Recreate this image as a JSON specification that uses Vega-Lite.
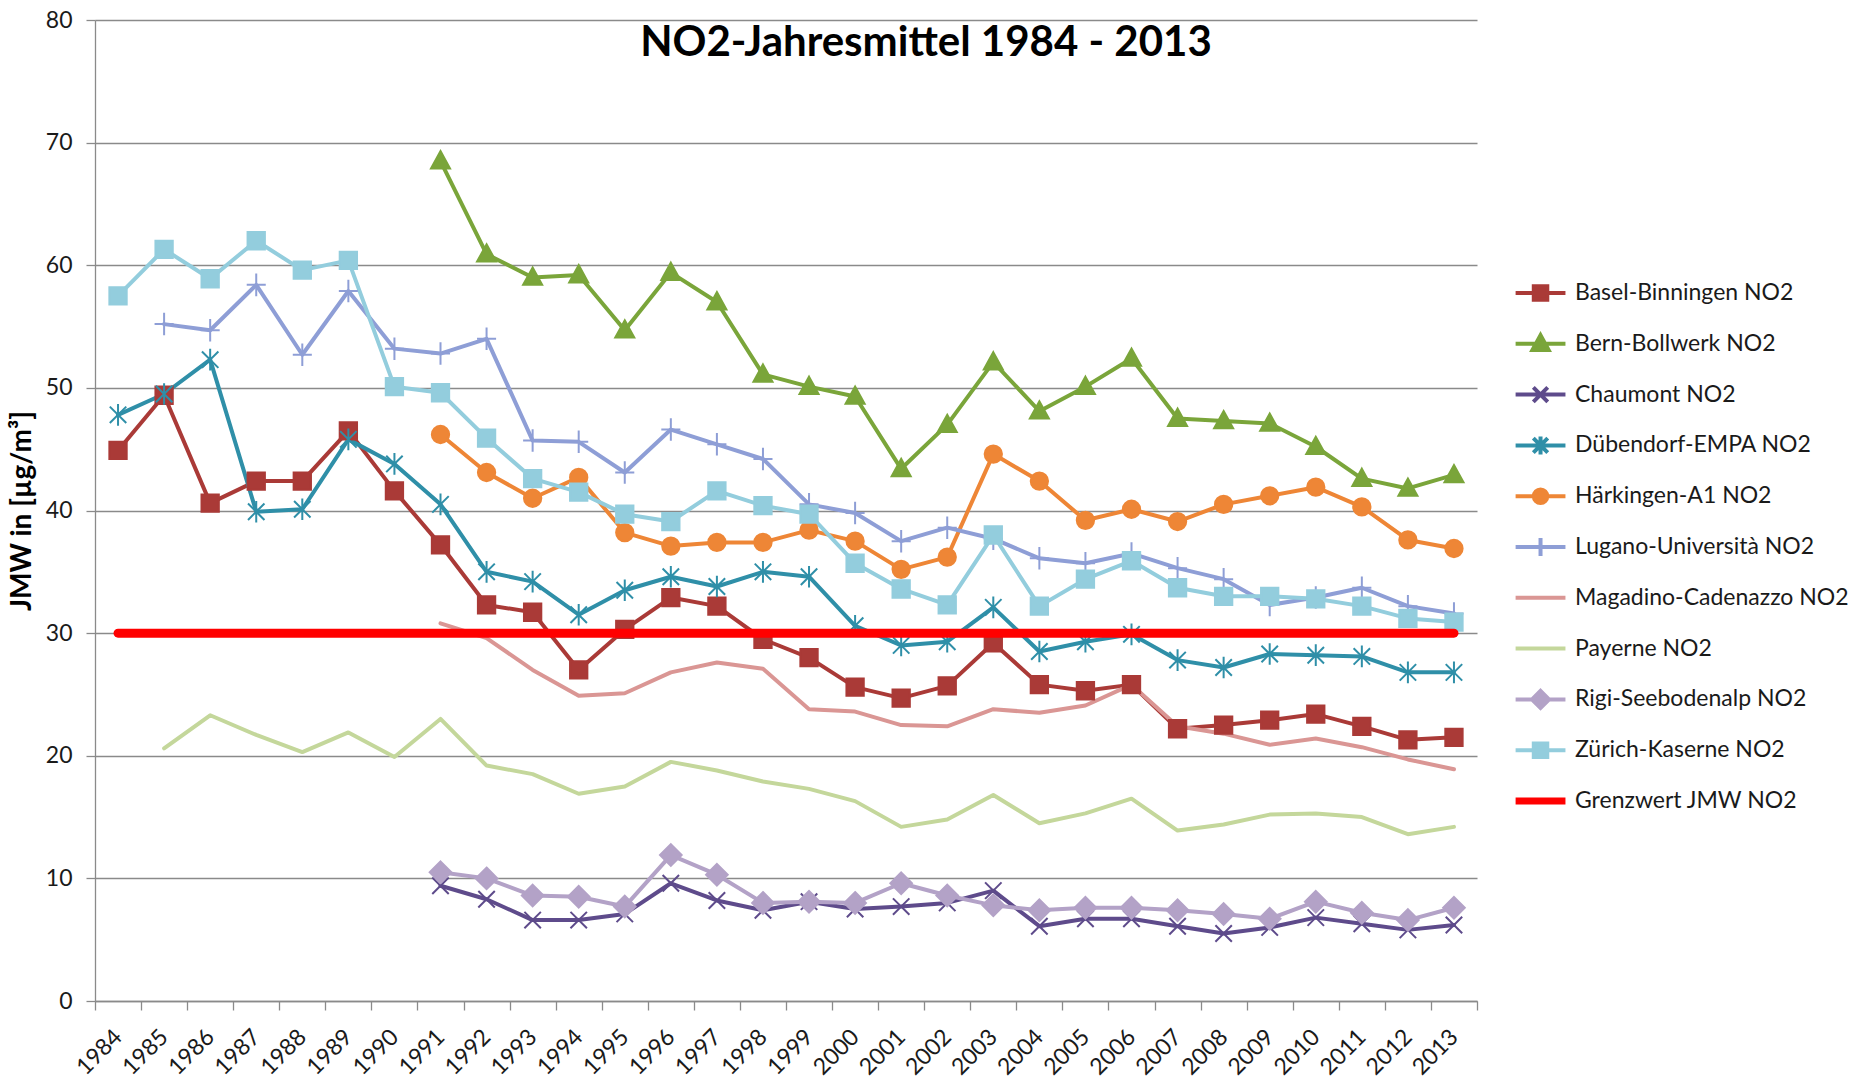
{
  "$schema": "https://vega.github.io/schema/vega-lite/v6.json",
  "width": 1382,
  "height": 981,
  "autosize": {"type": "none"},
  "padding": {"left": 95, "top": 20, "right": 383, "bottom": 80},
  "background": "white",
  "config": {"font": "Lato", "view": {"stroke": null}},
  "title": {"text": "NO2-Jahresmittel 1984 - 2013", "font": "Lato", "fontSize": 42, "fontWeight": "bold", "color": "#000000", "anchor": "middle", "frame": "group", "dx": 140, "offset": -89, "baseline": "alphabetic"},
  "data": {"values": [
    {"station":"Basel-Binningen NO2","year":"1984","value":44.9},{"station":"Basel-Binningen NO2","year":"1985","value":49.4},{"station":"Basel-Binningen NO2","year":"1986","value":40.6},{"station":"Basel-Binningen NO2","year":"1987","value":42.4},{"station":"Basel-Binningen NO2","year":"1988","value":42.4},{"station":"Basel-Binningen NO2","year":"1989","value":46.5},{"station":"Basel-Binningen NO2","year":"1990","value":41.6},{"station":"Basel-Binningen NO2","year":"1991","value":37.2},{"station":"Basel-Binningen NO2","year":"1992","value":32.3},{"station":"Basel-Binningen NO2","year":"1993","value":31.7},{"station":"Basel-Binningen NO2","year":"1994","value":27.0},{"station":"Basel-Binningen NO2","year":"1995","value":30.3},{"station":"Basel-Binningen NO2","year":"1996","value":32.9},{"station":"Basel-Binningen NO2","year":"1997","value":32.2},{"station":"Basel-Binningen NO2","year":"1998","value":29.5},{"station":"Basel-Binningen NO2","year":"1999","value":28.0},{"station":"Basel-Binningen NO2","year":"2000","value":25.6},{"station":"Basel-Binningen NO2","year":"2001","value":24.7},{"station":"Basel-Binningen NO2","year":"2002","value":25.7},{"station":"Basel-Binningen NO2","year":"2003","value":29.2},{"station":"Basel-Binningen NO2","year":"2004","value":25.8},{"station":"Basel-Binningen NO2","year":"2005","value":25.3},{"station":"Basel-Binningen NO2","year":"2006","value":25.8},{"station":"Basel-Binningen NO2","year":"2007","value":22.2},{"station":"Basel-Binningen NO2","year":"2008","value":22.5},{"station":"Basel-Binningen NO2","year":"2009","value":22.9},{"station":"Basel-Binningen NO2","year":"2010","value":23.4},{"station":"Basel-Binningen NO2","year":"2011","value":22.4},{"station":"Basel-Binningen NO2","year":"2012","value":21.3},{"station":"Basel-Binningen NO2","year":"2013","value":21.5},
    {"station":"Bern-Bollwerk NO2","year":"1991","value":68.5},{"station":"Bern-Bollwerk NO2","year":"1992","value":60.9},{"station":"Bern-Bollwerk NO2","year":"1993","value":59.0},{"station":"Bern-Bollwerk NO2","year":"1994","value":59.2},{"station":"Bern-Bollwerk NO2","year":"1995","value":54.7},{"station":"Bern-Bollwerk NO2","year":"1996","value":59.4},{"station":"Bern-Bollwerk NO2","year":"1997","value":57.0},{"station":"Bern-Bollwerk NO2","year":"1998","value":51.1},{"station":"Bern-Bollwerk NO2","year":"1999","value":50.1},{"station":"Bern-Bollwerk NO2","year":"2000","value":49.3},{"station":"Bern-Bollwerk NO2","year":"2001","value":43.4},{"station":"Bern-Bollwerk NO2","year":"2002","value":47.0},{"station":"Bern-Bollwerk NO2","year":"2003","value":52.1},{"station":"Bern-Bollwerk NO2","year":"2004","value":48.1},{"station":"Bern-Bollwerk NO2","year":"2005","value":50.1},{"station":"Bern-Bollwerk NO2","year":"2006","value":52.4},{"station":"Bern-Bollwerk NO2","year":"2007","value":47.5},{"station":"Bern-Bollwerk NO2","year":"2008","value":47.3},{"station":"Bern-Bollwerk NO2","year":"2009","value":47.1},{"station":"Bern-Bollwerk NO2","year":"2010","value":45.2},{"station":"Bern-Bollwerk NO2","year":"2011","value":42.6},{"station":"Bern-Bollwerk NO2","year":"2012","value":41.8},{"station":"Bern-Bollwerk NO2","year":"2013","value":42.9},
    {"station":"Chaumont NO2","year":"1991","value":9.4},{"station":"Chaumont NO2","year":"1992","value":8.3},{"station":"Chaumont NO2","year":"1993","value":6.6},{"station":"Chaumont NO2","year":"1994","value":6.6},{"station":"Chaumont NO2","year":"1995","value":7.1},{"station":"Chaumont NO2","year":"1996","value":9.6},{"station":"Chaumont NO2","year":"1997","value":8.2},{"station":"Chaumont NO2","year":"1998","value":7.4},{"station":"Chaumont NO2","year":"1999","value":8.1},{"station":"Chaumont NO2","year":"2000","value":7.5},{"station":"Chaumont NO2","year":"2001","value":7.7},{"station":"Chaumont NO2","year":"2002","value":8.0},{"station":"Chaumont NO2","year":"2003","value":9.0},{"station":"Chaumont NO2","year":"2004","value":6.1},{"station":"Chaumont NO2","year":"2005","value":6.7},{"station":"Chaumont NO2","year":"2006","value":6.7},{"station":"Chaumont NO2","year":"2007","value":6.1},{"station":"Chaumont NO2","year":"2008","value":5.5},{"station":"Chaumont NO2","year":"2009","value":6.0},{"station":"Chaumont NO2","year":"2010","value":6.8},{"station":"Chaumont NO2","year":"2011","value":6.3},{"station":"Chaumont NO2","year":"2012","value":5.8},{"station":"Chaumont NO2","year":"2013","value":6.2},
    {"station":"Dübendorf-EMPA NO2","year":"1984","value":47.8},{"station":"Dübendorf-EMPA NO2","year":"1985","value":49.5},{"station":"Dübendorf-EMPA NO2","year":"1986","value":52.3},{"station":"Dübendorf-EMPA NO2","year":"1987","value":39.9},{"station":"Dübendorf-EMPA NO2","year":"1988","value":40.1},{"station":"Dübendorf-EMPA NO2","year":"1989","value":45.8},{"station":"Dübendorf-EMPA NO2","year":"1990","value":43.8},{"station":"Dübendorf-EMPA NO2","year":"1991","value":40.5},{"station":"Dübendorf-EMPA NO2","year":"1992","value":35.0},{"station":"Dübendorf-EMPA NO2","year":"1993","value":34.2},{"station":"Dübendorf-EMPA NO2","year":"1994","value":31.5},{"station":"Dübendorf-EMPA NO2","year":"1995","value":33.5},{"station":"Dübendorf-EMPA NO2","year":"1996","value":34.6},{"station":"Dübendorf-EMPA NO2","year":"1997","value":33.8},{"station":"Dübendorf-EMPA NO2","year":"1998","value":35.0},{"station":"Dübendorf-EMPA NO2","year":"1999","value":34.6},{"station":"Dübendorf-EMPA NO2","year":"2000","value":30.6},{"station":"Dübendorf-EMPA NO2","year":"2001","value":29.0},{"station":"Dübendorf-EMPA NO2","year":"2002","value":29.3},{"station":"Dübendorf-EMPA NO2","year":"2003","value":32.1},{"station":"Dübendorf-EMPA NO2","year":"2004","value":28.5},{"station":"Dübendorf-EMPA NO2","year":"2005","value":29.3},{"station":"Dübendorf-EMPA NO2","year":"2006","value":29.9},{"station":"Dübendorf-EMPA NO2","year":"2007","value":27.8},{"station":"Dübendorf-EMPA NO2","year":"2008","value":27.2},{"station":"Dübendorf-EMPA NO2","year":"2009","value":28.3},{"station":"Dübendorf-EMPA NO2","year":"2010","value":28.2},{"station":"Dübendorf-EMPA NO2","year":"2011","value":28.1},{"station":"Dübendorf-EMPA NO2","year":"2012","value":26.8},{"station":"Dübendorf-EMPA NO2","year":"2013","value":26.8},
    {"station":"Härkingen-A1 NO2","year":"1991","value":46.2},{"station":"Härkingen-A1 NO2","year":"1992","value":43.1},{"station":"Härkingen-A1 NO2","year":"1993","value":41.0},{"station":"Härkingen-A1 NO2","year":"1994","value":42.7},{"station":"Härkingen-A1 NO2","year":"1995","value":38.2},{"station":"Härkingen-A1 NO2","year":"1996","value":37.1},{"station":"Härkingen-A1 NO2","year":"1997","value":37.4},{"station":"Härkingen-A1 NO2","year":"1998","value":37.4},{"station":"Härkingen-A1 NO2","year":"1999","value":38.4},{"station":"Härkingen-A1 NO2","year":"2000","value":37.5},{"station":"Härkingen-A1 NO2","year":"2001","value":35.2},{"station":"Härkingen-A1 NO2","year":"2002","value":36.2},{"station":"Härkingen-A1 NO2","year":"2003","value":44.6},{"station":"Härkingen-A1 NO2","year":"2004","value":42.4},{"station":"Härkingen-A1 NO2","year":"2005","value":39.2},{"station":"Härkingen-A1 NO2","year":"2006","value":40.1},{"station":"Härkingen-A1 NO2","year":"2007","value":39.1},{"station":"Härkingen-A1 NO2","year":"2008","value":40.5},{"station":"Härkingen-A1 NO2","year":"2009","value":41.2},{"station":"Härkingen-A1 NO2","year":"2010","value":41.9},{"station":"Härkingen-A1 NO2","year":"2011","value":40.3},{"station":"Härkingen-A1 NO2","year":"2012","value":37.6},{"station":"Härkingen-A1 NO2","year":"2013","value":36.9},
    {"station":"Lugano-Università NO2","year":"1985","value":55.2},{"station":"Lugano-Università NO2","year":"1986","value":54.7},{"station":"Lugano-Università NO2","year":"1987","value":58.4},{"station":"Lugano-Università NO2","year":"1988","value":52.7},{"station":"Lugano-Università NO2","year":"1989","value":57.9},{"station":"Lugano-Università NO2","year":"1990","value":53.2},{"station":"Lugano-Università NO2","year":"1991","value":52.8},{"station":"Lugano-Università NO2","year":"1992","value":54.0},{"station":"Lugano-Università NO2","year":"1993","value":45.7},{"station":"Lugano-Università NO2","year":"1994","value":45.6},{"station":"Lugano-Università NO2","year":"1995","value":43.1},{"station":"Lugano-Università NO2","year":"1996","value":46.6},{"station":"Lugano-Università NO2","year":"1997","value":45.4},{"station":"Lugano-Università NO2","year":"1998","value":44.2},{"station":"Lugano-Università NO2","year":"1999","value":40.5},{"station":"Lugano-Università NO2","year":"2000","value":39.8},{"station":"Lugano-Università NO2","year":"2001","value":37.5},{"station":"Lugano-Università NO2","year":"2002","value":38.6},{"station":"Lugano-Università NO2","year":"2003","value":37.7},{"station":"Lugano-Università NO2","year":"2004","value":36.1},{"station":"Lugano-Università NO2","year":"2005","value":35.7},{"station":"Lugano-Università NO2","year":"2006","value":36.5},{"station":"Lugano-Università NO2","year":"2007","value":35.3},{"station":"Lugano-Università NO2","year":"2008","value":34.4},{"station":"Lugano-Università NO2","year":"2009","value":32.3},{"station":"Lugano-Università NO2","year":"2010","value":32.9},{"station":"Lugano-Università NO2","year":"2011","value":33.7},{"station":"Lugano-Università NO2","year":"2012","value":32.2},{"station":"Lugano-Università NO2","year":"2013","value":31.6},
    {"station":"Magadino-Cadenazzo NO2","year":"1991","value":30.8},{"station":"Magadino-Cadenazzo NO2","year":"1992","value":29.6},{"station":"Magadino-Cadenazzo NO2","year":"1993","value":27.0},{"station":"Magadino-Cadenazzo NO2","year":"1994","value":24.9},{"station":"Magadino-Cadenazzo NO2","year":"1995","value":25.1},{"station":"Magadino-Cadenazzo NO2","year":"1996","value":26.8},{"station":"Magadino-Cadenazzo NO2","year":"1997","value":27.6},{"station":"Magadino-Cadenazzo NO2","year":"1998","value":27.1},{"station":"Magadino-Cadenazzo NO2","year":"1999","value":23.8},{"station":"Magadino-Cadenazzo NO2","year":"2000","value":23.6},{"station":"Magadino-Cadenazzo NO2","year":"2001","value":22.5},{"station":"Magadino-Cadenazzo NO2","year":"2002","value":22.4},{"station":"Magadino-Cadenazzo NO2","year":"2003","value":23.8},{"station":"Magadino-Cadenazzo NO2","year":"2004","value":23.5},{"station":"Magadino-Cadenazzo NO2","year":"2005","value":24.1},{"station":"Magadino-Cadenazzo NO2","year":"2006","value":25.8},{"station":"Magadino-Cadenazzo NO2","year":"2007","value":22.4},{"station":"Magadino-Cadenazzo NO2","year":"2008","value":21.8},{"station":"Magadino-Cadenazzo NO2","year":"2009","value":20.9},{"station":"Magadino-Cadenazzo NO2","year":"2010","value":21.4},{"station":"Magadino-Cadenazzo NO2","year":"2011","value":20.7},{"station":"Magadino-Cadenazzo NO2","year":"2012","value":19.7},{"station":"Magadino-Cadenazzo NO2","year":"2013","value":18.9},
    {"station":"Payerne NO2","year":"1985","value":20.6},{"station":"Payerne NO2","year":"1986","value":23.3},{"station":"Payerne NO2","year":"1987","value":21.7},{"station":"Payerne NO2","year":"1988","value":20.3},{"station":"Payerne NO2","year":"1989","value":21.9},{"station":"Payerne NO2","year":"1990","value":19.9},{"station":"Payerne NO2","year":"1991","value":23.0},{"station":"Payerne NO2","year":"1992","value":19.2},{"station":"Payerne NO2","year":"1993","value":18.5},{"station":"Payerne NO2","year":"1994","value":16.9},{"station":"Payerne NO2","year":"1995","value":17.5},{"station":"Payerne NO2","year":"1996","value":19.5},{"station":"Payerne NO2","year":"1997","value":18.8},{"station":"Payerne NO2","year":"1998","value":17.9},{"station":"Payerne NO2","year":"1999","value":17.3},{"station":"Payerne NO2","year":"2000","value":16.3},{"station":"Payerne NO2","year":"2001","value":14.2},{"station":"Payerne NO2","year":"2002","value":14.8},{"station":"Payerne NO2","year":"2003","value":16.8},{"station":"Payerne NO2","year":"2004","value":14.5},{"station":"Payerne NO2","year":"2005","value":15.3},{"station":"Payerne NO2","year":"2006","value":16.5},{"station":"Payerne NO2","year":"2007","value":13.9},{"station":"Payerne NO2","year":"2008","value":14.4},{"station":"Payerne NO2","year":"2009","value":15.2},{"station":"Payerne NO2","year":"2010","value":15.3},{"station":"Payerne NO2","year":"2011","value":15.0},{"station":"Payerne NO2","year":"2012","value":13.6},{"station":"Payerne NO2","year":"2013","value":14.2},
    {"station":"Rigi-Seebodenalp NO2","year":"1991","value":10.5},{"station":"Rigi-Seebodenalp NO2","year":"1992","value":10.0},{"station":"Rigi-Seebodenalp NO2","year":"1993","value":8.6},{"station":"Rigi-Seebodenalp NO2","year":"1994","value":8.5},{"station":"Rigi-Seebodenalp NO2","year":"1995","value":7.7},{"station":"Rigi-Seebodenalp NO2","year":"1996","value":11.9},{"station":"Rigi-Seebodenalp NO2","year":"1997","value":10.3},{"station":"Rigi-Seebodenalp NO2","year":"1998","value":8.0},{"station":"Rigi-Seebodenalp NO2","year":"1999","value":8.1},{"station":"Rigi-Seebodenalp NO2","year":"2000","value":8.0},{"station":"Rigi-Seebodenalp NO2","year":"2001","value":9.6},{"station":"Rigi-Seebodenalp NO2","year":"2002","value":8.6},{"station":"Rigi-Seebodenalp NO2","year":"2003","value":7.8},{"station":"Rigi-Seebodenalp NO2","year":"2004","value":7.4},{"station":"Rigi-Seebodenalp NO2","year":"2005","value":7.6},{"station":"Rigi-Seebodenalp NO2","year":"2006","value":7.6},{"station":"Rigi-Seebodenalp NO2","year":"2007","value":7.4},{"station":"Rigi-Seebodenalp NO2","year":"2008","value":7.1},{"station":"Rigi-Seebodenalp NO2","year":"2009","value":6.7},{"station":"Rigi-Seebodenalp NO2","year":"2010","value":8.1},{"station":"Rigi-Seebodenalp NO2","year":"2011","value":7.2},{"station":"Rigi-Seebodenalp NO2","year":"2012","value":6.6},{"station":"Rigi-Seebodenalp NO2","year":"2013","value":7.6},
    {"station":"Zürich-Kaserne NO2","year":"1984","value":57.5},{"station":"Zürich-Kaserne NO2","year":"1985","value":61.3},{"station":"Zürich-Kaserne NO2","year":"1986","value":58.9},{"station":"Zürich-Kaserne NO2","year":"1987","value":62.0},{"station":"Zürich-Kaserne NO2","year":"1988","value":59.6},{"station":"Zürich-Kaserne NO2","year":"1989","value":60.4},{"station":"Zürich-Kaserne NO2","year":"1990","value":50.1},{"station":"Zürich-Kaserne NO2","year":"1991","value":49.6},{"station":"Zürich-Kaserne NO2","year":"1992","value":45.9},{"station":"Zürich-Kaserne NO2","year":"1993","value":42.6},{"station":"Zürich-Kaserne NO2","year":"1994","value":41.5},{"station":"Zürich-Kaserne NO2","year":"1995","value":39.7},{"station":"Zürich-Kaserne NO2","year":"1996","value":39.1},{"station":"Zürich-Kaserne NO2","year":"1997","value":41.6},{"station":"Zürich-Kaserne NO2","year":"1998","value":40.4},{"station":"Zürich-Kaserne NO2","year":"1999","value":39.7},{"station":"Zürich-Kaserne NO2","year":"2000","value":35.7},{"station":"Zürich-Kaserne NO2","year":"2001","value":33.6},{"station":"Zürich-Kaserne NO2","year":"2002","value":32.3},{"station":"Zürich-Kaserne NO2","year":"2003","value":38.0},{"station":"Zürich-Kaserne NO2","year":"2004","value":32.2},{"station":"Zürich-Kaserne NO2","year":"2005","value":34.4},{"station":"Zürich-Kaserne NO2","year":"2006","value":35.9},{"station":"Zürich-Kaserne NO2","year":"2007","value":33.7},{"station":"Zürich-Kaserne NO2","year":"2008","value":33.0},{"station":"Zürich-Kaserne NO2","year":"2009","value":33.0},{"station":"Zürich-Kaserne NO2","year":"2010","value":32.8},{"station":"Zürich-Kaserne NO2","year":"2011","value":32.2},{"station":"Zürich-Kaserne NO2","year":"2012","value":31.2},{"station":"Zürich-Kaserne NO2","year":"2013","value":30.9},
    {"station":"Grenzwert JMW NO2","year":"1984","value":30},{"station":"Grenzwert JMW NO2","year":"1985","value":30},{"station":"Grenzwert JMW NO2","year":"1986","value":30},{"station":"Grenzwert JMW NO2","year":"1987","value":30},{"station":"Grenzwert JMW NO2","year":"1988","value":30},{"station":"Grenzwert JMW NO2","year":"1989","value":30},{"station":"Grenzwert JMW NO2","year":"1990","value":30},{"station":"Grenzwert JMW NO2","year":"1991","value":30},{"station":"Grenzwert JMW NO2","year":"1992","value":30},{"station":"Grenzwert JMW NO2","year":"1993","value":30},{"station":"Grenzwert JMW NO2","year":"1994","value":30},{"station":"Grenzwert JMW NO2","year":"1995","value":30},{"station":"Grenzwert JMW NO2","year":"1996","value":30},{"station":"Grenzwert JMW NO2","year":"1997","value":30},{"station":"Grenzwert JMW NO2","year":"1998","value":30},{"station":"Grenzwert JMW NO2","year":"1999","value":30},{"station":"Grenzwert JMW NO2","year":"2000","value":30},{"station":"Grenzwert JMW NO2","year":"2001","value":30},{"station":"Grenzwert JMW NO2","year":"2002","value":30},{"station":"Grenzwert JMW NO2","year":"2003","value":30},{"station":"Grenzwert JMW NO2","year":"2004","value":30},{"station":"Grenzwert JMW NO2","year":"2005","value":30},{"station":"Grenzwert JMW NO2","year":"2006","value":30},{"station":"Grenzwert JMW NO2","year":"2007","value":30},{"station":"Grenzwert JMW NO2","year":"2008","value":30},{"station":"Grenzwert JMW NO2","year":"2009","value":30},{"station":"Grenzwert JMW NO2","year":"2010","value":30},{"station":"Grenzwert JMW NO2","year":"2011","value":30},{"station":"Grenzwert JMW NO2","year":"2012","value":30},{"station":"Grenzwert JMW NO2","year":"2013","value":30}
  ]},
  "encoding": {
    "x": {"field": "year", "type": "ordinal", "scale": {"type": "band", "paddingInner": 0, "paddingOuter": 0},
      "axis": {"title": null, "labelAngle": -45, "labelAlign": "right", "labelBaseline": "middle", "labelFont": "Lato", "labelFontSize": 23, "labelColor": "#1a1a1a", "labelPadding": 23, "tickBand": "extent", "tickSize": 9, "tickWidth": 1.3, "tickColor": "#8a8a8a", "domainColor": "#8a8a8a", "domainWidth": 1.3, "grid": false}},
    "y": {"field": "value", "type": "quantitative", "scale": {"domain": [0, 80], "nice": false, "zero": true},
      "axis": {"values": [0, 10, 20, 30, 40, 50, 60, 70, 80], "title": "JMW in [µg/m³]", "titleFont": "Lato", "titleFontSize": 28, "titleFontWeight": "bold", "titleColor": "#000000", "titlePadding": 9, "grid": true, "gridColor": "#8a8a8a", "gridWidth": 1.3, "domainColor": "#8a8a8a", "domainWidth": 1.3, "tickColor": "#8a8a8a", "tickSize": 9, "tickWidth": 1.3, "labelFont": "Lato", "labelFontSize": 23, "labelColor": "#1a1a1a", "labelPadding": 14}},
    "color": {"field": "station", "type": "nominal",
      "scale": {"domain": ["Basel-Binningen NO2", "Bern-Bollwerk NO2", "Chaumont NO2", "Dübendorf-EMPA NO2", "Härkingen-A1 NO2", "Lugano-Università NO2", "Magadino-Cadenazzo NO2", "Payerne NO2", "Rigi-Seebodenalp NO2", "Zürich-Kaserne NO2", "Grenzwert JMW NO2"],
        "range": ["#AA3A37", "#7AA53A", "#5E4B8B", "#2F8FA8", "#EE8636", "#8E9ED6", "#DA9694", "#C4D79B", "#B3A2C7", "#93CDDD", "#FF0000"]},
      "legend": {"orient": "none", "legendX": 1419, "legendY": 260, "title": null, "direction": "vertical", "padding": 0, "labelFont": "Lato", "labelFontSize": 23, "labelColor": "#1a1a1a", "labelLimit": 400, "symbolSize": 324, "symbolStrokeWidth": 4, "labelOffset": 38, "clipHeight": 26, "rowPadding": 24.8,
        "encoding": {"symbols": {
          "shape": {"value": {"expr": "['M-1.1,0H4.44M0.92,-0.75H2.42V0.75H0.92Z','M-1.1,0H4.44M1.67,-0.95L2.57,0.7H0.77Z','M-1.1,0H4.44M0.87,-0.8L2.47,0.8M0.87,0.8L2.47,-0.8','M-1.1,0H4.44M0.87,-0.8L2.47,0.8M0.87,0.8L2.47,-0.8M1.67,-1V1','M-1.1,0H4.44M2.42,0A0.75,0.75,0,1,1,0.92,0A0.75,0.75,0,1,1,2.42,0Z','M-1.1,0H4.44M1.67,-1V1','M-1.1,0H4.44','M-1.1,0H4.44','M-1.1,0H4.44M1.67,-0.95L2.62,0L1.67,0.95L0.72,0Z','M-1.1,0H4.44M0.92,-0.75H2.42V0.75H0.92Z','M-1.1,0H4.44'][indexof(['Basel-Binningen NO2','Bern-Bollwerk NO2','Chaumont NO2','Dübendorf-EMPA NO2','Härkingen-A1 NO2','Lugano-Università NO2','Magadino-Cadenazzo NO2','Payerne NO2','Rigi-Seebodenalp NO2','Zürich-Kaserne NO2','Grenzwert JMW NO2'], datum.value)]"}},
          "fill": {"value": {"expr": "scale('color', datum.value)"}},
          "stroke": {"value": {"expr": "scale('color', datum.value)"}},
          "strokeWidth": {"value": {"expr": "datum.value === 'Grenzwert JMW NO2' ? 7 : 4"}},
          "size": {"value": 324},
          "opacity": {"value": 1}
        }}}}
  },
  "layer": [
    {"transform": [{"filter": "datum.station !== 'Grenzwert JMW NO2'"}],
     "mark": {"type": "line", "strokeWidth": 4, "strokeJoin": "round", "strokeCap": "round"}},
    {"transform": [{"filter": "datum.station !== 'Grenzwert JMW NO2' && datum.station !== 'Magadino-Cadenazzo NO2' && datum.station !== 'Payerne NO2'"}],
     "mark": {"type": "point", "filled": true, "size": 300, "strokeWidth": 2, "opacity": 1},
     "encoding": {
       "stroke": {"field": "station", "type": "nominal", "legend": null,
         "scale": {"domain": ["Basel-Binningen NO2", "Bern-Bollwerk NO2", "Chaumont NO2", "Dübendorf-EMPA NO2", "Härkingen-A1 NO2", "Lugano-Università NO2", "Rigi-Seebodenalp NO2", "Zürich-Kaserne NO2"],
           "range": ["#AA3A37", "#7AA53A", "#5E4B8B", "#2F8FA8", "#EE8636", "#8E9ED6", "#B3A2C7", "#93CDDD"]}},
       "shape": {"field": "station", "type": "nominal", "legend": null,
         "scale": {"domain": ["Basel-Binningen NO2", "Bern-Bollwerk NO2", "Chaumont NO2", "Dübendorf-EMPA NO2", "Härkingen-A1 NO2", "Lugano-Università NO2", "Rigi-Seebodenalp NO2", "Zürich-Kaserne NO2"],
           "range": ["M-1,-1H1V1H-1Z", "M0,-1.15L1.1,0.85H-1.1Z", "M-0.95,-0.95L0.95,0.95M-0.95,0.95L0.95,-0.95", "M-0.95,-0.95L0.95,0.95M-0.95,0.95L0.95,-0.95M0,-1.25V1.25", "M1,0A1,1,0,1,1,-1,0A1,1,0,1,1,1,0Z", "M-1.1,0H1.1M0,-1.3V1.3", "M0,-1.25L1.25,0L0,1.25L-1.25,0Z", "M-1,-1H1V1H-1Z"]}}
     }},
    {"transform": [{"filter": "datum.station === 'Grenzwert JMW NO2'"}],
     "mark": {"type": "line", "strokeWidth": 9, "strokeCap": "round"}}
  ]
}
